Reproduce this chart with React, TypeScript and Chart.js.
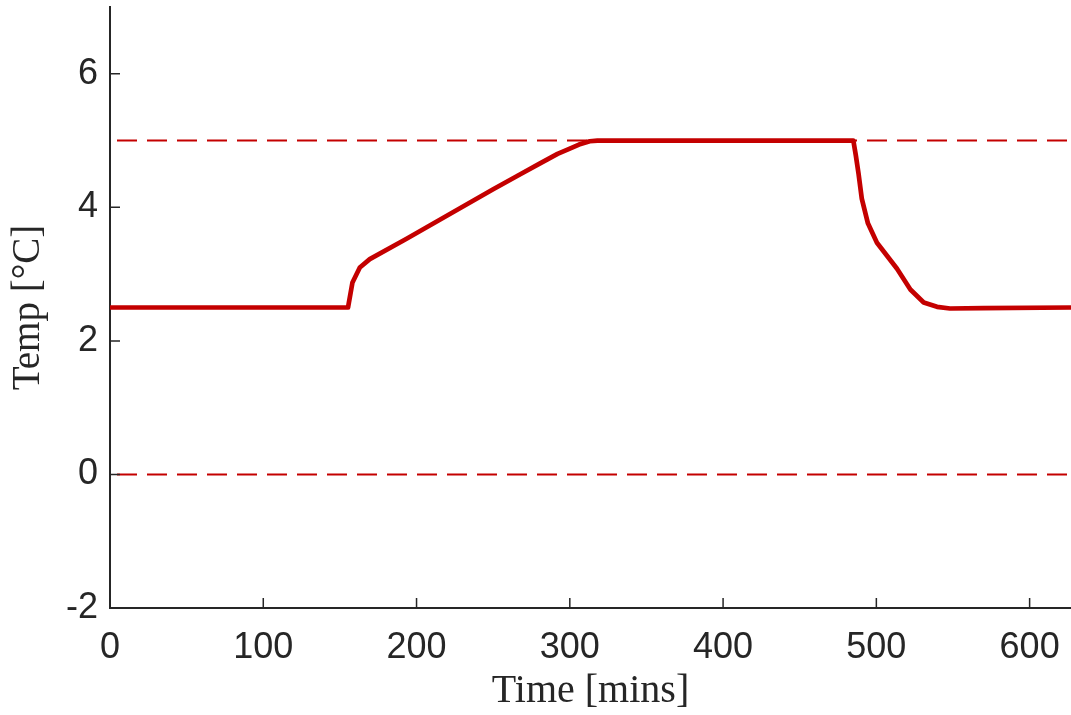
import React, { useEffect, useRef } from "react";
import { Chart, registerables } from "chart.js";

Chart.register(...registerables);

// ---- data ----
const timeMins = [
  0, 155.3, 158.2, 163, 169.5, 193.5, 250, 268, 280, 292, 300, 306, 313, 318,
  485, 486.6, 488.4, 490.5, 494.5, 500.4, 513.5, 522.2, 530.9, 539.6, 548, 570, 627,
];
const tempC = [
  2.5, 2.5, 2.875, 3.1, 3.225, 3.53, 4.27, 4.5, 4.65, 4.8, 4.88, 4.94, 4.99, 5.0,
  5.0, 4.78, 4.5, 4.13, 3.76, 3.47, 3.08, 2.77, 2.575, 2.51, 2.485, 2.49, 2.5,
];
const upperLimit = 5;
const lowerLimit = 0;
const limitSpan = [0, 627];
const xTicks = [0, 100, 200, 300, 400, 500, 600];
const yTicks = [-2, 0, 2, 4, 6];
const xRange = [0, 627];
const yRange = [-2, 7];
const xTitle = "Time [mins]";
const yTitle = "Temp [°C]";

const AXIS = "#262626";
const RED = "#c40000";

const insideTicks = {
  id: "insideTicks",
  afterDatasetsDraw(chart: any) {
    const { ctx, chartArea, scales } = chart;
    ctx.save();
    ctx.strokeStyle = AXIS;
    ctx.lineWidth = 1.5;
    ctx.beginPath();
    xTicks.forEach((v) => {
      const px = scales.x.getPixelForValue(v);
      ctx.moveTo(px, chartArea.bottom);
      ctx.lineTo(px, chartArea.bottom - 10);
    });
    yTicks.forEach((v) => {
      const py = scales.y.getPixelForValue(v);
      ctx.moveTo(chartArea.left, py);
      ctx.lineTo(chartArea.left + 10, py);
    });
    ctx.stroke();
    ctx.restore();
  },
};

export default function App() {
  const ref = useRef<HTMLCanvasElement>(null);

  useEffect(() => {
    if (!ref.current) return;
    const mainData = timeMins.map((t, i) => ({ x: t, y: tempC[i] }));
    const upper = limitSpan.map((t) => ({ x: t, y: upperLimit }));
    const lower = limitSpan.map((t) => ({ x: t, y: lowerLimit }));

    const dashed = {
      borderColor: RED,
      borderWidth: 2,
      borderDash: [20, 10],
      borderDashOffset: 23,
      pointRadius: 0,
      fill: false,
    };

    const chart = new Chart(ref.current, {
      type: "line",
      data: {
        datasets: [
          {
            data: mainData,
            borderColor: RED,
            borderWidth: 4.7,
            pointRadius: 0,
            tension: 0,
            fill: false,
            borderJoinStyle: "round",
          },
          { data: upper, ...dashed },
          { data: lower, ...dashed },
        ],
      },
      options: {
        animation: false,
        responsive: false,
        devicePixelRatio: 1,
        layout: { padding: { top: 7, left: 0, right: 0, bottom: 0 } },
        plugins: {
          legend: { display: false },
          tooltip: { enabled: false },
        },
        scales: {
          x: {
            type: "linear",
            min: xRange[0],
            max: xRange[1],
            afterBuildTicks: (s: any) => {
              s.ticks = xTicks.map((v) => ({ value: v }));
            },
            afterFit: (s: any) => {
              s.height = 107;
              s.paddingLeft = 0;
              s.paddingRight = 0;
              s.paddingTop = 0;
              s.paddingBottom = 0;
            },
            grid: { display: false, drawTicks: false },
            border: { display: true, color: AXIS, width: 2 },
            ticks: {
              color: AXIS,
              font: { family: "Liberation Sans", size: 36 },
              padding: 18,
              maxRotation: 0,
              autoSkip: false,
            },
            title: {
              display: true,
              text: xTitle,
              color: AXIS,
              font: { family: "Liberation Serif", size: 40 },
              padding: 0,
            },
          },
          y: {
            type: "linear",
            min: yRange[0],
            max: yRange[1],
            afterBuildTicks: (s: any) => {
              s.ticks = yTicks.map((v) => ({ value: v }));
            },
            afterFit: (s: any) => {
              s.width = 110;
              s.paddingLeft = 0;
              s.paddingRight = 0;
              s.paddingTop = 0;
              s.paddingBottom = 0;
            },
            grid: { display: false, drawTicks: false },
            border: { display: true, color: AXIS, width: 2 },
            ticks: {
              color: AXIS,
              font: { family: "Liberation Sans", size: 36 },
              padding: 12,
              autoSkip: false,
            },
            title: {
              display: true,
              text: yTitle,
              color: AXIS,
              font: { family: "Liberation Serif", size: 39 },
              padding: { top: 5, bottom: 0 },
            },
          },
        },
      },
      plugins: [insideTicks],
    });
    return () => chart.destroy();
  }, []);

  return (
    <canvas
      ref={ref}
      width={1071}
      height={715}
      style={{ display: "block", position: "absolute", left: 0, top: 0 }}
    />
  );
}
